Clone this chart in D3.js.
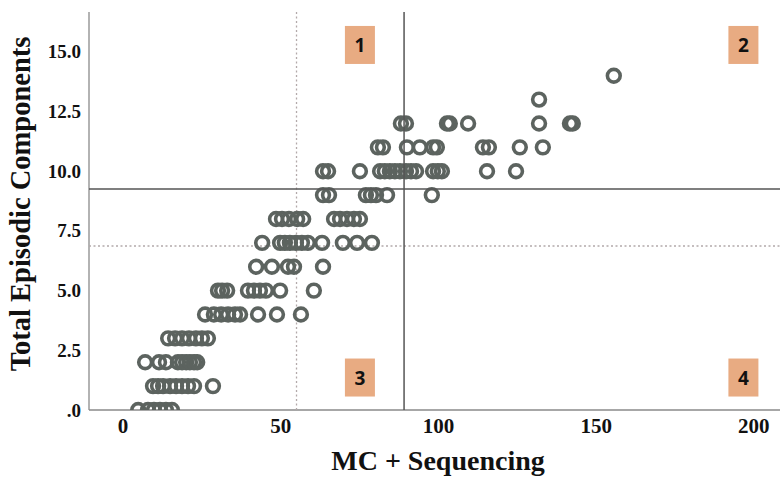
<!DOCTYPE html>
<html>
<head>
<meta charset="utf-8">
<script src="https://cdn.jsdelivr.net/npm/d3@7"></script>
<style>
  body { margin: 0; background: #fff; }
  svg { display: block; }
</style>
</head>
<body>
<svg class="svg-content" width="780" height="479"></svg>
<script>
// y levels (Total Episodic Components) and the MC + Sequencing scores found at each level
const episodicLevels = [0, 1, 2, 3, 4, 5, 6, 7, 8, 9, 10, 11, 12, 13, 14];
const mcSeqAtLevel = [
  [4.8, 7.9, 9.8, 11.7, 13.6, 15.5],
  [9.5, 11.1, 12.7, 14.9, 16.8, 18.7, 20.6, 22.5, 28.5],
  [7.0, 11.4, 13.6, 17.4, 18.7, 20.0, 21.2, 22.5, 23.5],
  [14.3, 16.5, 18.7, 20.9, 23.1, 25.0, 26.9],
  [26.0, 28.8, 31.1, 33.3, 35.5, 37.1, 42.8, 48.8, 56.4],
  [30.1, 31.4, 33.0, 39.6, 41.5, 43.4, 45.3, 49.8, 60.5],
  [42.2, 47.2, 52.3, 54.2, 63.4],
  [44.1, 49.8, 51.3, 52.9, 54.8, 56.7, 58.6, 63.1, 69.7, 74.2, 78.9],
  [48.5, 50.4, 52.6, 55.2, 57.1, 66.9, 68.8, 71.0, 73.2, 75.1],
  [63.4, 65.3, 77.0, 78.6, 80.2, 83.7, 97.9],
  [63.4, 65.0, 75.1, 81.5, 83.0, 84.6, 86.2, 87.8, 89.7, 91.3, 92.9, 98.3, 99.8, 101.1, 115.4, 124.6],
  [80.8, 82.4, 90.0, 94.1, 98.3, 99.5, 114.1, 116.0, 125.8, 133.1],
  [88.1, 89.7, 102.7, 103.6, 109.4, 131.9, 141.7, 142.6],
  [131.9],
  [155.6]
];

const xTicks = [0, 50, 100, 150, 200];
const yTicks = [0, 2.5, 5, 7.5, 10, 12.5, 15];
const yTickLabels = [".0", "2.5", "5.0", "7.5", "10.0", "12.5", "15.0"];

// reference lines
const solidX = 89.1, dottedX = 55.0;
const solidY = 9.26, dottedY = 6.87;

// quadrant markers
const quadNames = ["1", "2", "3", "4"];
const quadX = [75.1, 196.7, 75.1, 196.7];
const quadY = [15.29, 15.29, 1.36, 1.36];

let points = [];
episodicLevels.forEach((lvl, i) => {
  mcSeqAtLevel[i].forEach(v => points.push({x: v, y: lvl}));
});

let svg = d3.select(".svg-content");

let xScale = d3.scaleLinear().domain([-10.8, 208.3]).range([89, 780]);
let yScale = d3.scaleLinear().domain([0, 16.67]).range([410, 12]);

let plotLeft = xScale.range()[0], plotRight = xScale.range()[1];
let plotTop = yScale.range()[1], plotBottom = yScale.range()[0];

svg.append("defs").append("clipPath")
   .attr("id", "plotclip")
   .append("rect")
   .attr("x", plotLeft)
   .attr("y", plotTop)
   .attr("width", plotRight - plotLeft)
   .attr("height", plotBottom - plotTop);

// axis lines
svg.append("line")
   .attr("x1", plotLeft).attr("x2", plotLeft)
   .attr("y1", plotTop).attr("y2", plotBottom)
   .attr("stroke", "#9a9a9a").attr("stroke-width", 1.5);

svg.append("line")
   .attr("x1", plotLeft).attr("x2", plotRight)
   .attr("y1", plotBottom).attr("y2", plotBottom)
   .attr("stroke", "#8a8a8a").attr("stroke-width", 1.5);

// dotted reference lines
svg.append("line")
   .attr("x1", xScale(dottedX)).attr("x2", xScale(dottedX))
   .attr("y1", plotTop).attr("y2", plotBottom)
   .attr("stroke", "#b3a9aa").attr("stroke-width", 1.3)
   .attr("stroke-dasharray", "2,2.5");

svg.append("line")
   .attr("x1", plotLeft).attr("x2", plotRight)
   .attr("y1", yScale(dottedY)).attr("y2", yScale(dottedY))
   .attr("stroke", "#b3a9aa").attr("stroke-width", 1.3)
   .attr("stroke-dasharray", "2,2.5");

// points
svg.append("g")
   .attr("clip-path", "url(#plotclip)")
   .selectAll("circle")
   .data(points)
   .enter()
   .append("circle")
   .attr("cx", d => xScale(d.x))
   .attr("cy", d => yScale(d.y))
   .attr("r", 6.4)
   .attr("fill", "none")
   .attr("stroke", "#5c635f")
   .attr("stroke-width", 3.6);

// solid reference lines
svg.append("line")
   .attr("x1", xScale(solidX)).attr("x2", xScale(solidX))
   .attr("y1", plotTop).attr("y2", plotBottom)
   .attr("stroke", "#555").attr("stroke-width", 1.5);

svg.append("line")
   .attr("x1", plotLeft).attr("x2", plotRight)
   .attr("y1", yScale(solidY)).attr("y2", yScale(solidY))
   .attr("stroke", "#555").attr("stroke-width", 1.5);

// quadrant boxes
let quad = svg.selectAll(".quad")
   .data(quadNames)
   .enter()
   .append("g")
   .attr("class", "quad")
   .attr("transform", (d, i) => "translate(" + xScale(quadX[i]) + "," + yScale(quadY[i]) + ")");

quad.append("rect")
    .attr("x", -15).attr("y", -19)
    .attr("width", 30).attr("height", 38)
    .attr("fill", "#e8ab82");

quad.append("text")
    .attr("text-anchor", "middle")
    .attr("y", 7)
    .attr("font-family", "'Open Sans', 'Liberation Sans', sans-serif")
    .attr("font-weight", "bold")
    .attr("font-size", "19px")
    .attr("fill", "#111")
    .text(d => d);

// tick labels
svg.append("g")
   .selectAll("text")
   .data(xTicks)
   .enter()
   .append("text")
   .attr("x", d => xScale(d))
   .attr("y", 433)
   .attr("text-anchor", "middle")
   .attr("font-family", "'Liberation Serif', 'Times New Roman', serif")
   .attr("font-weight", "bold")
   .attr("font-size", "21px")
   .attr("fill", "#111")
   .text(d => d);

svg.append("g")
   .selectAll("text")
   .data(yTicks)
   .enter()
   .append("text")
   .attr("x", 81)
   .attr("y", d => yScale(d) + 6.5)
   .attr("text-anchor", "end")
   .attr("font-family", "'Liberation Serif', 'Times New Roman', serif")
   .attr("font-weight", "bold")
   .attr("font-size", "19px")
   .attr("fill", "#111")
   .text((d, i) => yTickLabels[i]);

// axis titles
svg.append("text")
   .attr("x", 438)
   .attr("y", 470)
   .attr("text-anchor", "middle")
   .attr("font-family", "'Liberation Serif', 'Times New Roman', serif")
   .attr("font-weight", "bold")
   .attr("font-size", "28px")
   .attr("fill", "#111")
   .text("MC + Sequencing");

svg.append("text")
   .attr("transform", "translate(30,204) rotate(-90)")
   .attr("text-anchor", "middle")
   .attr("font-family", "'Liberation Serif', 'Times New Roman', serif")
   .attr("font-weight", "bold")
   .attr("font-size", "28.5px")
   .attr("fill", "#111")
   .text("Total Episodic Components");
</script>
</body>
</html>
